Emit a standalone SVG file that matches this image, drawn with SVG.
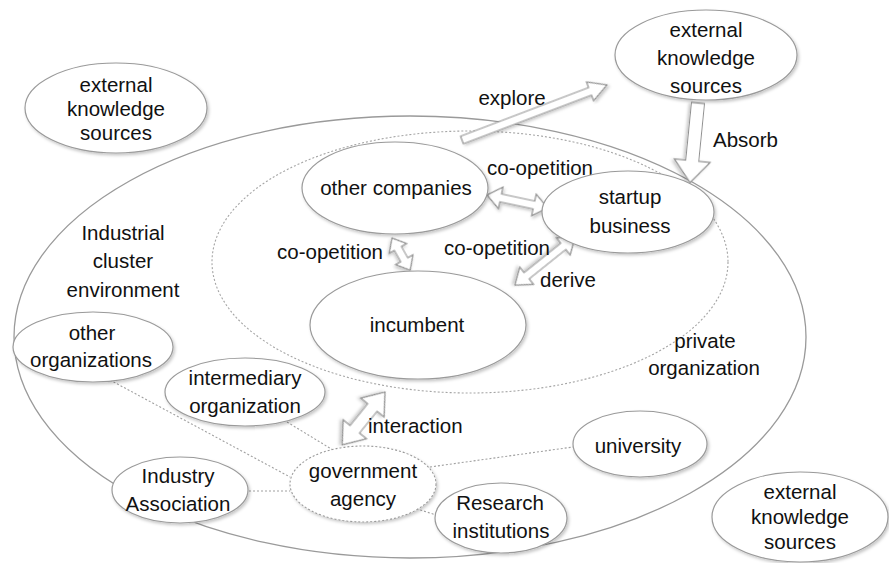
<svg xmlns="http://www.w3.org/2000/svg" width="889" height="563" viewBox="0 0 889 563">
  <defs>
    <filter id="shadow" x="-10%" y="-10%" width="125%" height="130%">
      <feDropShadow dx="1.5" dy="2" stdDeviation="1.4" flood-color="#000" flood-opacity="0.22"/>
    </filter>
  </defs>
  <style>
    text { font-family: "Liberation Sans", Arial, sans-serif; font-size: 20.5px; fill: #111; text-anchor: middle; }
    .node { fill: #fff; stroke: #9a9a9a; stroke-width: 1.2; filter: url(#shadow); }
    .node-dot { fill: #fff; stroke: #9a9a9a; stroke-width: 1.1; stroke-dasharray: 2 2; filter: url(#shadow); }
    .region { fill: none; stroke: #9a9a9a; stroke-width: 1.3; }
    .region-dot { fill: none; stroke: #a5a5a5; stroke-width: 1.1; stroke-dasharray: 2 2; }
    .link { fill: none; stroke: #a0a0a0; stroke-width: 1.1; stroke-dasharray: 2 2; }
    .block { fill: #fff; stroke: #8f8f8f; stroke-width: 1.2; stroke-linejoin: miter; filter: url(#shadow); }
    .start { text-anchor: start; }
  </style>

  <!-- cluster regions -->
  <g id="industrial-cluster">
    <ellipse class="region" cx="410" cy="337" rx="396" ry="221"/>
    <text x="123" y="240">Industrial</text>
    <text x="123" y="268">cluster</text>
    <text x="123" y="297">environment</text>
  </g>
  <g id="private-organization">
    <ellipse class="region-dot" cx="470" cy="262" rx="258" ry="131"/>
    <text x="705" y="348">private</text>
    <text x="704" y="375">organization</text>
  </g>

  <!-- dotted relations around the government agency -->
  <g id="connectors">
    <line class="link" x1="110" y1="380" x2="290" y2="477"/>
    <line class="link" x1="287" y1="422" x2="333" y2="450"/>
    <line class="link" x1="237" y1="491" x2="290" y2="491"/>
    <line class="link" x1="430" y1="467" x2="573" y2="447"/>
    <line class="link" x1="405" y1="505" x2="436" y2="515"/>

    <!-- explore -->
    <path class="block" transform="translate(462,140) rotate(-20.8)" d="M0,-4 L137,-4 L137,-10 L155,0 L137,10 L137,4 L0,4 Z"/>
    <!-- absorb -->
    <path class="block" transform="translate(698,103) rotate(95.7)" d="M0,-6.5 L58,-6.5 L58,-18 L80,0 L58,18 L58,6.5 L0,6.5 Z"/>
    <!-- co-opetition: other companies / startup -->
    <path class="block" transform="translate(487,195) rotate(12)" d="M0,0 L14,-11 L14,-4 L48,-4 L48,-11 L62,0 L48,11 L48,4 L14,4 L14,11 Z"/>
    <!-- co-opetition: other companies / incumbent -->
    <path class="block" transform="translate(392,238) rotate(60.6)" d="M0,0 L12,-10 L12,-4 L25,-4 L25,-10 L37,0 L25,10 L25,4 L12,4 L12,10 Z"/>
    <!-- co-opetition / derive: startup / incumbent -->
    <path class="block" transform="translate(575,237) rotate(141.3)" d="M0,0 L15,-11 L15,-4 L62,-4 L62,-11 L77,0 L62,11 L62,4 L15,4 L15,11 Z"/>
    <!-- interaction -->
    <path class="block" transform="translate(385,392) rotate(129)" d="M0,0 L20,-15 L20,-6 L48,-6 L48,-15 L68,0 L48,15 L48,6 L20,6 L20,15 Z"/>

    <text x="512" y="105">explore</text>
    <text class="start" x="713" y="147">Absorb</text>
    <text x="540" y="175">co-opetition</text>
    <text x="330" y="259">co-opetition</text>
    <text x="497" y="255">co-opetition</text>
    <text class="start" x="540" y="287">derive</text>
    <text class="start" x="368" y="433">interaction</text>
  </g>

  <!-- nodes -->
  <g id="ext-knowledge-left">
    <ellipse class="node" cx="116" cy="108" rx="91" ry="45"/>
    <text x="116" y="92">external</text>
    <text x="116" y="116">knowledge</text>
    <text x="116" y="140">sources</text>
  </g>
  <g id="ext-knowledge-top">
    <ellipse class="node" cx="706" cy="55" rx="91" ry="45"/>
    <text x="706" y="37">external</text>
    <text x="706" y="65">knowledge</text>
    <text x="706" y="93">sources</text>
  </g>
  <g id="ext-knowledge-bottom">
    <ellipse class="node" cx="800" cy="517" rx="88" ry="45"/>
    <text x="800" y="499">external</text>
    <text x="800" y="524">knowledge</text>
    <text x="800" y="549">sources</text>
  </g>
  <g id="other-companies">
    <ellipse class="node" cx="395" cy="188" rx="93" ry="46"/>
    <text x="396" y="195">other companies</text>
  </g>
  <g id="startup-business">
    <ellipse class="node" cx="628" cy="212" rx="86" ry="41"/>
    <text x="630" y="204">startup</text>
    <text x="630" y="233">business</text>
  </g>
  <g id="incumbent">
    <ellipse class="node" cx="418" cy="325" rx="108" ry="54"/>
    <text x="417" y="332">incumbent</text>
  </g>
  <g id="other-organizations">
    <ellipse class="node" cx="93" cy="347" rx="80" ry="35"/>
    <text x="92" y="340">other</text>
    <text x="91" y="367">organizations</text>
  </g>
  <g id="intermediary-organization">
    <ellipse class="node" cx="245" cy="392" rx="80" ry="34"/>
    <text x="245" y="385">intermediary</text>
    <text x="245" y="413">organization</text>
  </g>
  <g id="industry-association">
    <ellipse class="node" cx="180" cy="490" rx="68" ry="33"/>
    <text x="178" y="483">Industry</text>
    <text x="178" y="511">Association</text>
  </g>
  <g id="government-agency">
    <ellipse class="node-dot" cx="363" cy="484" rx="73" ry="38"/>
    <text x="363" y="478">government</text>
    <text x="363" y="506">agency</text>
  </g>
  <g id="university">
    <ellipse class="node" cx="640" cy="444" rx="67" ry="33"/>
    <text x="638" y="453">university</text>
  </g>
  <g id="research-institutions">
    <ellipse class="node" cx="501" cy="518" rx="66" ry="35"/>
    <text x="500" y="510">Research</text>
    <text x="501" y="538">institutions</text>
  </g>
</svg>
